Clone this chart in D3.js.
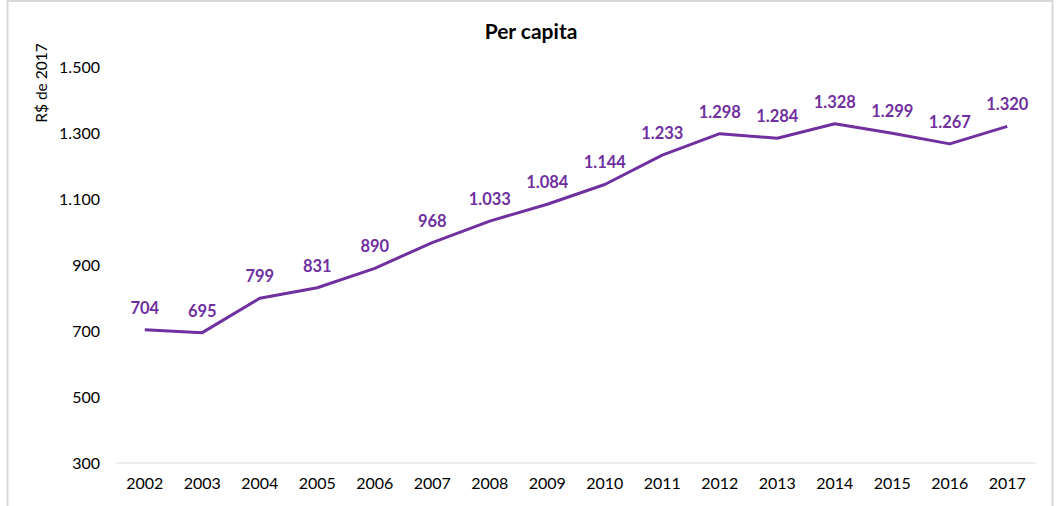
<!DOCTYPE html>
<html>
<head>
<meta charset="utf-8">
<script src="https://cdn.jsdelivr.net/npm/d3@7"></script>
<style>
  html, body { margin: 0; padding: 0; background: #fff; }
  svg { display: block; }
</style>
</head>
<body>
<svg id="chart" width="1056" height="506"></svg>
<script>
// Per capita values in R$ of 2017
const years = ["2002","2003","2004","2005","2006","2007","2008","2009","2010","2011","2012","2013","2014","2015","2016","2017"];
const perCapita = [704, 695, 799, 831, 890, 968, 1033, 1084, 1144, 1233, 1298, 1284, 1328, 1299, 1267, 1320];
const yTicks = [300, 500, 700, 900, 1100, 1300, 1500];

const svg = d3.select("#chart");
const font = "Lato, 'Open Sans', sans-serif";
const purple = "#7030A0";

// chart frame
svg.append("rect")
  .attr("x", 7.5).attr("y", 1).attr("width", 1045).attr("height", 520)
  .attr("fill", "none").attr("stroke", "#d9d9d9").attr("stroke-width", 2);

const x = d3.scaleBand().domain(years).range([116, 1036]);
const y = d3.scaleLinear().domain([300, 1500]).range([463, 67]);

// baseline
svg.append("line")
  .attr("x1", 116).attr("x2", 1036)
  .attr("y1", y(300)).attr("y2", y(300))
  .attr("stroke", "#d9d9d9").attr("stroke-width", 1);

const fmt = d3.formatLocale({ decimal: ",", thousands: ".", grouping: [3], currency: ["R$", ""] }).format(",d");

// y axis
const yAxis = svg.append("g").attr("transform", "translate(100,0)")
  .call(d3.axisLeft(y).tickValues(yTicks).tickFormat(fmt).tickSize(0).tickPadding(0));
yAxis.select(".domain").remove();
yAxis.selectAll("text").attr("font-family", font).attr("font-size", 16).attr("fill", "#000");

// x axis
const xAxis = svg.append("g").attr("transform", `translate(0,${y(300)})`)
  .call(d3.axisBottom(x).tickSize(0).tickPadding(15));
xAxis.select(".domain").remove();
xAxis.selectAll("text").attr("font-family", font).attr("font-size", 16).attr("fill", "#000");

// line
const pts = years.map((yr, i) => ({ yr, v: perCapita[i] }));
const line = d3.line().x(d => x(d.yr) + x.bandwidth() / 2).y(d => y(d.v));
svg.append("path").datum(pts)
  .attr("d", line).attr("fill", "none")
  .attr("stroke", purple).attr("stroke-width", 3).attr("stroke-linejoin", "round");

// value labels
svg.append("g").selectAll("text").data(pts).join("text")
  .attr("x", d => x(d.yr) + x.bandwidth() / 2)
  .attr("y", d => y(d.v) - 16)
  .attr("text-anchor", "middle")
  .attr("font-family", font).attr("font-size", 16.5).attr("font-weight", "bold")
  .attr("fill", purple)
  .text(d => fmt(d.v));

// title
svg.append("text")
  .attr("x", 531).attr("y", 39).attr("text-anchor", "middle")
  .attr("font-family", font).attr("font-size", 21).attr("font-weight", "bold")
  .text("Per capita");

// y axis title
svg.append("text")
  .attr("transform", "translate(47,83) rotate(-90)")
  .attr("text-anchor", "middle")
  .attr("font-family", font).attr("font-size", 15.5)
  .text("R$ de 2017");
</script>
</body>
</html>
